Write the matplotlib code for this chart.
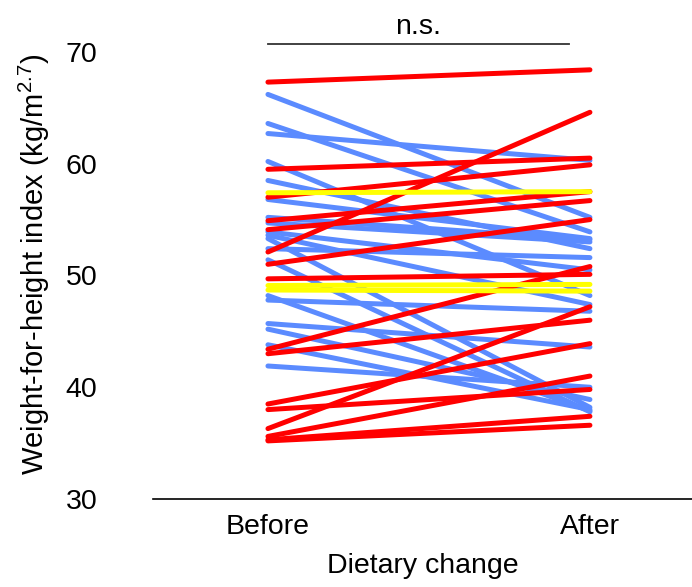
import numpy as np
import matplotlib.pyplot as plt

plt.rcParams['font.family'] = ['Liberation Sans', 'DejaVu Sans']
plt.rcParams['mathtext.fontset'] = 'custom'
plt.rcParams['mathtext.rm'] = 'Liberation Sans'

# weight-for-height index, before -> after dietary change
red_before = [67.3, 52.1, 59.5, 57.0, 54.9, 54.1, 51.0, 49.7, 43.4, 43.0, 38.5, 38.0, 36.3, 35.6, 35.3, 35.2]
red_after = [68.4, 64.6, 60.5, 59.9, 57.5, 56.7, 55.0, 50.1, 50.8, 46.0, 43.9, 39.8, 47.2, 41.0, 37.4, 36.6]

blue_before = [66.2, 63.6, 62.7, 60.2, 58.5, 56.8, 55.2, 54.7, 53.9, 53.6, 53.3, 52.4, 51.4, 48.2, 47.8, 45.7, 45.2, 43.8, 41.9]
blue_after = [55.2, 53.9, 60.3, 48.2, 52.4, 53.3, 53.2, 53.0, 50.5, 47.4, 38.2, 51.6, 37.8, 37.9, 46.8, 43.6, 38.9, 38.0, 40.0]

yellow_before = [57.4, 49.1, 48.7]
yellow_after = [57.5, 49.2, 48.6]

groups = ["Before", "After"]

fig = plt.figure(figsize=(6.92, 5.87), dpi=100)
ax = fig.add_axes([0.2211, 0.1499, 0.7789, 0.7997])

x = [0, 1]
for b, a in zip(blue_before, blue_after):
    ax.plot(x, [b, a], color='#5b8bff', lw=3.6, solid_capstyle='round', zorder=2)
for b, a in zip(red_before, red_after):
    ax.plot(x, [b, a], color='#ff0000', lw=3.6, solid_capstyle='round', zorder=3)
for b, a in zip(yellow_before, yellow_after):
    ax.plot(x, [b, a], color='#ffff00', lw=3.6, solid_capstyle='round', zorder=4)

ax.set_xlim(-0.357, 1.317)
ax.set_ylim(30, 72)
ax.set_xticks(x)
ax.set_xticklabels(groups)
ax.set_yticks([30, 40, 50, 60, 70])
ax.tick_params(axis='both', length=0, labelsize=20.5)
ax.tick_params(axis='y', pad=40)
ax.tick_params(axis='x', pad=11)

for s in ['top', 'right', 'left']:
    ax.spines[s].set_visible(False)
ax.spines['bottom'].set_linewidth(1.2)

ax.set_ylabel(r'Weight-for-height index (kg/m$^{\mathregular{2.7}}$)', fontsize=21, labelpad=10)
ax.set_xlabel('Dietary change', fontsize=20.5, labelpad=9)

# significance bar
ax.plot([0, 0.935], [70.7, 70.7], color='#333333', lw=1.3, clip_on=False)
ax.text(0.467, 71.1, 'n.s.', ha='center', va='bottom', fontsize=20.5, clip_on=False)

fig.savefig('out.png', dpi=100)
